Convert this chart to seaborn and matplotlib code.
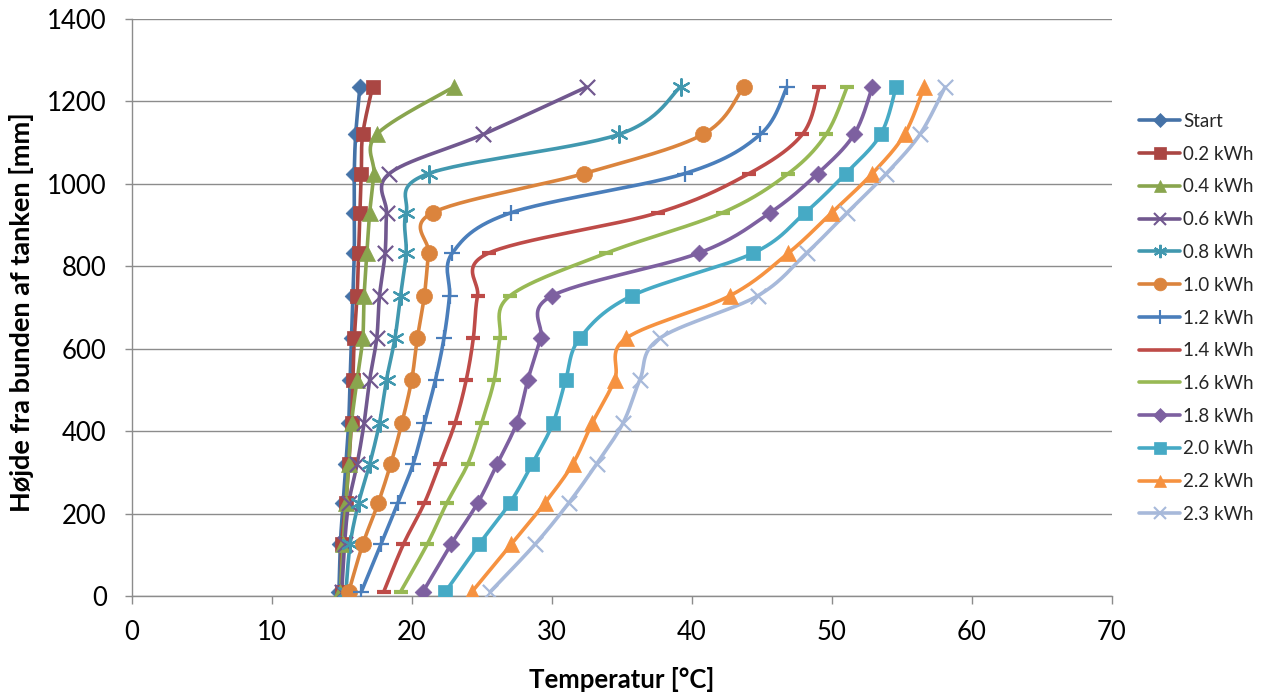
import numpy as np
import pandas as pd
import matplotlib
matplotlib.use("Agg")
import matplotlib.pyplot as plt
from matplotlib.lines import Line2D
import seaborn as sns

# ---------------- data ----------------
heights = [10, 125, 225, 320, 420, 525, 625, 728, 832, 930, 1025, 1120, 1235]

series_names = ["Start", "0.2 kWh", "0.4 kWh", "0.6 kWh", "0.8 kWh", "1.0 kWh", "1.2 kWh",
                "1.4 kWh", "1.6 kWh", "1.8 kWh", "2.0 kWh", "2.2 kWh", "2.3 kWh"]

t_start = [14.8, 14.9, 15.1, 15.3, 15.5, 15.6, 15.7, 15.8, 15.9, 15.9, 15.9, 16.0, 16.3]
t_02 = [15.0, 15.0, 15.3, 15.5, 15.7, 15.8, 15.9, 16.1, 16.2, 16.3, 16.4, 16.5, 17.2]
t_04 = [14.9, 15.1, 15.3, 15.5, 15.7, 16.1, 16.5, 16.6, 16.8, 17.0, 17.3, 17.5, 23.0]
t_06 = [15.0, 15.2, 15.5, 16.1, 16.6, 17.0, 17.5, 17.7, 18.1, 18.2, 18.4, 25.1, 32.5]
t_08 = [15.3, 15.6, 16.2, 17.0, 17.7, 18.2, 18.8, 19.2, 19.6, 19.6, 21.2, 34.8, 39.2]
t_10 = [15.5, 16.5, 17.6, 18.5, 19.3, 20.0, 20.4, 20.9, 21.2, 21.5, 32.3, 40.8, 43.7]
t_12 = [16.4, 17.8, 19.0, 20.1, 20.9, 21.7, 22.3, 22.7, 22.9, 27.1, 39.5, 44.9, 46.8]
t_14 = [18.0, 19.4, 20.9, 22.0, 23.1, 23.9, 24.4, 24.7, 25.5, 37.6, 44.1, 47.9, 49.1]
t_16 = [19.2, 21.1, 22.5, 24.0, 25.0, 25.9, 26.3, 27.0, 33.9, 42.2, 46.9, 49.6, 51.1]
t_18 = [20.8, 22.8, 24.7, 26.1, 27.5, 28.3, 29.2, 30.0, 40.5, 45.6, 49.0, 51.6, 52.9]
t_20 = [22.4, 24.8, 27.0, 28.6, 30.1, 31.0, 32.0, 35.7, 44.4, 48.1, 51.0, 53.5, 54.6]
t_22 = [24.3, 27.1, 29.5, 31.5, 32.9, 34.5, 35.3, 42.7, 46.9, 50.0, 52.9, 55.2, 56.6]
t_23 = [25.6, 28.8, 31.2, 33.2, 35.1, 36.3, 37.7, 44.7, 48.2, 51.1, 53.9, 56.3, 58.1]

all_temps = [t_start, t_02, t_04, t_06, t_08, t_10, t_12, t_14, t_16, t_18, t_20, t_22, t_23]

x_label = "Temperatur [°C]"
y_label = "Højde fra bunden af tanken [mm]"
x_ticks = [0, 10, 20, 30, 40, 50, 60, 70]
y_ticks = [0, 200, 400, 600, 800, 1000, 1200, 1400]

# ---------------- style ----------------
colors = ["#4572A7", "#AA4643", "#89A54E", "#71588F", "#4198AF", "#DB843D", "#4A7EBB",
          "#BE4B48", "#98B954", "#7D60A0", "#46AAC5", "#F69240", "#A7B9DA"]
markers = ["D", "s", "^", "x", (6, 2, 0), "o", "+", "_", "_", "D", "s", "^", "x"]
msizes = [8.5, 10.5, 11.5, 11, 12, 11.5, 12, 10, 10, 8.5, 10.5, 11.5, 11]

sns.set_theme(style="white")
plt.rcParams["font.family"] = ["Lato", "DejaVu Sans"]

W, H = 1261, 695
fig = plt.figure(figsize=(W / 100, H / 100), dpi=100)
x0, x1 = 131.7, 1111.7
y0, y1 = 596, 19
ax = fig.add_axes([x0 / W, 1 - y0 / H, (x1 - x0) / W, (y0 - y1) / H])

px_per_x = (x1 - x0) / 70.0
px_per_y = (y0 - y1) / 1400.0


def smooth_path(xv, yv, n=30):
    """Bezier (Catmull-Rom style) rendering path through the points, in pixel space."""
    P = np.column_stack([np.asarray(xv) * px_per_x, np.asarray(yv) * px_per_y])
    ext = np.vstack([P[0], P, P[-1]])
    out = []
    t = np.linspace(0, 1, n)[:, None]
    for i in range(len(P) - 1):
        p0, p1, p2, p3 = ext[i], ext[i + 1], ext[i + 2], ext[i + 3]
        c1 = p1 + (p2 - p0) / 6.0
        c2 = p2 - (p3 - p1) / 6.0
        seg = ((1 - t) ** 3) * p1 + 3 * ((1 - t) ** 2) * t * c1 + 3 * (1 - t) * t ** 2 * c2 + t ** 3 * p2
        out.append(seg if i == 0 else seg[1:])
    out = np.vstack(out)
    return out[:, 0] / px_per_x, out[:, 1] / px_per_y


for name, temps, c, m, ms in zip(series_names, all_temps, colors, markers, msizes):
    sx, sy = smooth_path(temps, heights)
    sns.lineplot(x=sx, y=sy, sort=False, estimator=None, color=c, lw=2.6, ax=ax, legend=False)
    filled = m in ("D", "s", "^", "o")
    if filled:
        sns.scatterplot(x=temps, y=heights, marker=m, color=c, s=ms ** 2, edgecolor=c,
                        linewidth=0.5, ax=ax, legend=False, zorder=3)
    else:
        sns.scatterplot(x=temps, y=heights, marker=m, color=c, s=ms ** 2,
                        linewidth=3.0 if m == "_" else 1.6, ax=ax, legend=False, zorder=3)

ax.set_xlim(0, 70)
ax.set_ylim(0, 1400)
ax.set_xticks(x_ticks)
ax.set_yticks(y_ticks)
ax.set_xticklabels([str(v) for v in x_ticks])
ax.set_yticklabels([str(v) for v in y_ticks])

grid_c = "#8C8C8C"
ax.grid(axis="y", color=grid_c, lw=1.0)
ax.grid(axis="x", visible=False)
ax.set_axisbelow(True)
for s in ["top", "right"]:
    ax.spines[s].set_visible(False)
for s in ["left", "bottom"]:
    ax.spines[s].set_color(grid_c)
    ax.spines[s].set_linewidth(1.0)

ax.tick_params(axis="x", direction="out", length=6, width=1, color=grid_c, pad=11,
               labelsize=18.5, labelcolor="black", bottom=True)
ax.tick_params(axis="y", direction="out", length=5, width=1, color=grid_c, pad=13,
               labelsize=18.5, labelcolor="black", left=True)

ax.set_xlabel(x_label, fontsize=18.5, fontweight="bold", color="black")
ax.set_ylabel(y_label, fontsize=19.5, fontweight="bold", color="black")
ax.xaxis.set_label_coords(0.5, (y0 - 680) / (y0 - y1))
ax.xaxis.label.set_va("center")
ax.yaxis.set_label_coords((22 - x0) / (x1 - x0), (y0 - 312) / (y0 - y1))
ax.yaxis.label.set_va("center")

handles = []
for name, c, m, ms in zip(series_names, colors, markers, msizes):
    filled = m in ("D", "s", "^", "o")
    handles.append(Line2D([], [], color=c, lw=2.6, marker=m, markersize=ms * 0.8,
                          markerfacecolor=c, markeredgecolor=c,
                          markeredgewidth=(0.5 if filled else 1.5), label=name))
fig.legend(handles=handles, loc="upper left", bbox_to_anchor=(1139 / W, 1 - 113 / H),
           frameon=False, fontsize=13.5, handlelength=2.2, handletextpad=0.15,
           labelspacing=0.84, borderaxespad=0, borderpad=0)

fig.savefig("out.png", dpi=100)
